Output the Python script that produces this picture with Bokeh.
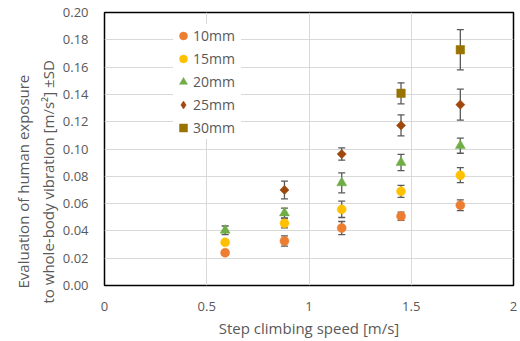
import math
from bokeh.plotting import figure
from bokeh.models import (ColumnDataSource, Whisker, TeeHead, Legend, LegendItem, FixedTicker,
                          CustomJSTickFormatter, NumeralTickFormatter, Title)
from bokeh.embed import file_html
from bokeh.resources import INLINE

speed = [0.59, 0.88, 1.16, 1.45, 1.74]
mm10 = [0.024, 0.0326, 0.0421, 0.0507, 0.0588]
sd10 = [0.0015, 0.0037, 0.0048, 0.003, 0.004]
mm15 = [0.0316, 0.0456, 0.0558, 0.069, 0.0808]
sd15 = [0.0015, 0.0034, 0.006, 0.0044, 0.0055]
mm20 = [0.0404, 0.0531, 0.0752, 0.0901, 0.1024]
sd20 = [0.0032, 0.0036, 0.0073, 0.0059, 0.0055]
speed25 = [0.88, 1.16, 1.45, 1.74]
mm25 = [0.070, 0.0963, 0.1173, 0.1325]
sd25 = [0.0065, 0.0045, 0.0077, 0.0113]
speed30 = [1.45, 1.74]
mm30 = [0.1408, 0.1727]
sd30 = [0.0077, 0.0147]

labels = ["10mm", "15mm", "20mm", "25mm", "30mm"]
colors = ["#ED7D31", "#FFC000", "#70AD47", "#9E480E", "#997300"]
x_title = "Step climbing speed [m/s]"
y_title_1 = "Evaluation of human exposure"
y_title_2 = "to whole-body vibration [m/s\u00b2] \u00b1SD"

FONT = "Open Sans"
TXT = "#595959"

p = figure(width=520, height=341, output_backend="svg", toolbar_location=None,
           x_range=(0, 2), y_range=(0, 0.2),
           min_border_left=104, min_border_right=7, min_border_top=12, min_border_bottom=56)
p.background_fill_color = "white"
p.border_fill_color = "white"
p.outline_line_color = "#000000"
p.outline_line_width = 1.5

p.xaxis.ticker = FixedTicker(ticks=[0, 0.5, 1, 1.5, 2])
p.yaxis.ticker = FixedTicker(ticks=[i * 0.02 for i in range(11)])
p.yaxis.formatter = NumeralTickFormatter(format="0.00")
p.xaxis.formatter = CustomJSTickFormatter(code="return tick.toString();")
for ax in (p.xaxis[0], p.yaxis[0]):
    ax.axis_line_color = None
    ax.major_tick_line_color = None
    ax.minor_tick_line_color = None
    ax.major_tick_out = 0
    ax.major_tick_in = 0
    ax.minor_tick_out = 0
    ax.minor_tick_in = 0
    ax.major_label_text_font = FONT
    ax.major_label_text_font_size = "13px"
    ax.major_label_text_color = TXT
    ax.axis_label_text_font = FONT
    ax.axis_label_text_font_size = "15px"
    ax.axis_label_text_font_style = "normal"
    ax.axis_label_text_color = TXT
p.yaxis.major_label_standoff = 16
p.xaxis.major_label_standoff = 16
p.xaxis.axis_label = x_title
p.xaxis.axis_label_standoff = 4

# two-line y-axis title as side-panel titles (inner line added first);
# align="left" starts the text at the panel bottom, shifted by offset
t2 = Title(text=y_title_2, align="left", offset=-18, standoff=4,
           text_font=FONT, text_font_size="15px", text_font_style="normal", text_color=TXT)
p.add_layout(t2, "left")
t1 = Title(text=y_title_1, align="left", offset=-3, standoff=1,
           text_font=FONT, text_font_size="15px", text_font_style="normal", text_color=TXT)
p.add_layout(t1, "left")

p.xgrid.grid_line_color = "#D9D9D9"
p.ygrid.grid_line_color = "#D9D9D9"
p.xgrid.grid_line_width = 1
p.ygrid.grid_line_width = 1

series = [
    (speed, mm10, sd10, "circle", 9, 0),
    (speed, mm15, sd15, "circle", 9, 0),
    (speed, mm20, sd20, "triangle", 10, 0),
    (speed25, mm25, sd25, "square", 6.5, math.pi / 4),
    (speed30, mm30, sd30, "square", 8.5, 0),
]

items = []
for (xs, ys, sds, marker, size, ang), lab, col in zip(series, labels, colors):
    src = ColumnDataSource(dict(x=xs, y=ys,
                                lo=[a - b for a, b in zip(ys, sds)],
                                hi=[a + b for a, b in zip(ys, sds)]))
    w = Whisker(source=src, base="x", lower="lo", upper="hi", dimension="height",
                line_color="#595959", line_width=1.3,
                upper_head=TeeHead(size=7, line_color="#595959", line_width=1.3),
                lower_head=TeeHead(size=7, line_color="#595959", line_width=1.3))
    p.add_layout(w)
    r = p.scatter("x", "y", source=src, marker=marker, size=size, angle=ang,
                  fill_color=col, line_color=col, line_width=0.5)
    if ang != 0:
        r_leg = p.scatter("x", "y", source=src, marker="diamond", size=size,
                          fill_color=col, line_color=col, line_width=0.5, visible=False)
        items.append(LegendItem(label=lab, renderers=[r_leg]))
    else:
        items.append(LegendItem(label=lab, renderers=[r]))

legend = Legend(items=items, location=(69, 146), orientation="vertical",
                glyph_width=20, glyph_height=23, label_height=23, label_width=48, spacing=0,
                padding=6, label_standoff=0, margin=0,
                label_text_font=FONT, label_text_font_size="14px", label_text_color=TXT,
                border_line_color=None, background_fill_color="white", background_fill_alpha=1)
p.add_layout(legend, "center")

open("out.html", "w").write(file_html(p, INLINE))
